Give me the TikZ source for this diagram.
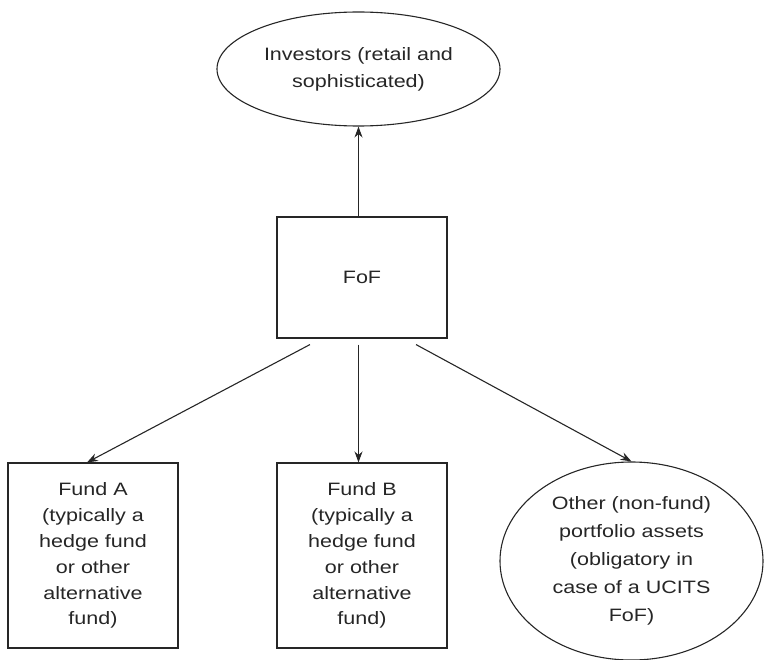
\documentclass[tikz,border=0pt]{standalone}
\usepackage{fontspec}
\setmainfont{Liberation Sans}[FakeStretch=1.2]
\usetikzlibrary{shapes.geometric,arrows.meta}
\definecolor{ink}{HTML}{262626}
\begin{document}
\begin{tikzpicture}[x=1bp,y=-1bp,
  every node/.style={text=ink,font=\fontsize{18}{26}\selectfont,align=center,inner sep=0pt},
  boxnode/.style={draw=ink,line width=1.1bp,rectangle,minimum width=170bp},
  ovalnode/.style={draw=ink,line width=1.1bp,ellipse},
  link/.style={draw=ink,line width=1.1bp,-{Stealth[length=11bp,width=8bp]}}]
  \useasboundingbox (0,0) rectangle (764,660);

  % investors on top, the fund of funds in the middle
  \node[ovalnode,minimum width=283bp,minimum height=114bp,font=\fontsize{18}{27}\selectfont] (inv) at (358.5,69)
    {Investors (retail and\\sophisticated)};
  \node[boxnode,minimum height=121bp] (fof) at (362,277.5) {FoF};

  % underlying holdings
  \node[boxnode,minimum height=185bp] (fa) at (93,555.5)
    {Fund A\\(typically a\\hedge fund\\or other\\alternative\\fund)};
  \node[boxnode,minimum height=185bp] (fb) at (362,555.5)
    {Fund B\\(typically a\\hedge fund\\or other\\alternative\\fund)};
  \node[ovalnode,minimum width=263bp,minimum height=198bp,font=\fontsize{18}{28}\selectfont] (oth) at (631.5,561)
    {Other (non-fund)\\portfolio assets\\(obligatory in\\case of a UCITS\\FoF)};

  % starting points of the outgoing links, just below the FoF box
  \coordinate (sa) at ([xshift=-52bp,yshift=-6bp]fof.south);
  \coordinate (sb) at ([xshift=-3.5bp,yshift=-6bp]fof.south);
  \coordinate (sc) at ([xshift=54bp,yshift=-6bp]fof.south);

  \draw[link] (fof.north -| inv.south) -- (inv.south);
  \draw[link] (sa) -- ([xshift=-6bp]fa.north);
  \draw[link] (sb) -- (sb |- fb.north);
  \draw[link] (sc) -- (oth.north);
\end{tikzpicture}
\end{document}
